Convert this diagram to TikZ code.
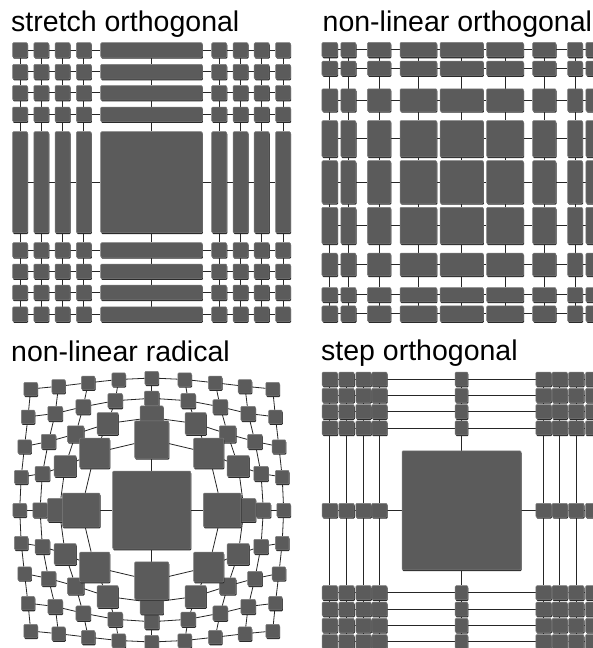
\documentclass[tikz,border=0pt]{standalone}
\usepackage{fontspec}
\setmainfont{Liberation Sans}
\usetikzlibrary{backgrounds, shadows}

\definecolor{boxfill}{HTML}{5B5B5B}
\definecolor{boxrim}{HTML}{7E7E7E}
\definecolor{boxshade}{HTML}{2A2A2A}

% radial layout: offsets and sizes, index 5*a+b
\def\radoff{{0,0,0,0,0,70.5,57,44,36.5,33,92.4,86.5,76,68.5,63.5,111.7,109.3,103.2,96.5,93.2,132,130.5,127.2,123.7,121}}
\def\radsize{{78,34,23.3,14.5,13.5,37.5,30,21,14.5,13.5,23.3,22,16.5,14.5,13.5,14.5,14.5,14.5,14.5,13.5,13.5,13.5,13.5,13.5,13.5}}

% edges between grid neighbours
\newcommand{\gridlinks}[1]{%
  \foreach \i [evaluate=\i as \inext using int(\i+1)] in {1,...,8}
    \foreach \j in {1,...,9}{
      \draw[link] (#1-\i-\j) -- (#1-\inext-\j);
      \draw[link] (#1-\j-\i) -- (#1-\j-\inext);
    }%
}

\begin{document}
\begin{tikzpicture}[x=1pt, y=-1pt,
    box/.style={draw=boxrim, line width=0.5pt, fill=boxfill, rounded corners=1pt, inner sep=0pt,
      general shadow={fill=boxshade, shadow xshift=0.6pt, shadow yshift=-1.3pt}},
    link/.style={draw=black!85, line width=0.8pt},
    heading/.style={anchor=base west, inner sep=0pt, font=\fontsize{28.5}{30}\selectfont}]
    \useasboundingbox (0,0) rectangle (592,648);
    \begin{scope}[on background layer]
        \fill[white] (0,0) rectangle (592,648);
    \end{scope}

    % Titles
    \node[heading] (h-stretch) at (11,31.5) {stretch orthogonal};
    \node[heading] (h-nonlin) at (322.5,31.5) {non-linear orthogonal};
    \node[heading] (h-radical) at (11,361) {non-linear radical};
    \node[heading] (h-step) at (321,360) {step orthogonal};

    % stretch orthogonal
    \foreach \x/\bw [count=\i] in {20/15, 41.3/15, 62.5/15, 83.8/15, 151.5/101.6, 219.2/15, 240.5/15, 261.7/15, 283/15}
        \foreach \y/\bh [count=\j] in {50/14.6, 71.7/14.6, 92.8/14.6, 114.3/14.6, 182.2/101, 250/14.6, 271.3/14.6, 292.5/14.6, 314.2/14.6}
            \node[box, minimum width=\bw, minimum height=\bh] (st-\i-\j) at (\x,\y) {};
    \begin{scope}[on background layer]
        \gridlinks{st}
    \end{scope}

    % non-linear orthogonal
    \foreach \x/\bw [count=\i] in {329.7/15.5, 348.4/15, 379.1/23.3, 418.4/36.8, 461.7/43.3, 505/36.8, 544.3/23.3, 575/15, 593.7/15.5}
        \foreach \y/\bh [count=\j] in {49.7/14.5, 68.3/14.3, 100/22.5, 138.7/36.3, 182/42.6, 225.5/36.5, 264.5/22.6, 294.7/14.4, 313.7/15.5}
            \node[box, minimum width=\bw, minimum height=\bh] (nl-\i-\j) at (\x,\y) {};
    \begin{scope}[on background layer]
        \gridlinks{nl}
    \end{scope}

    % non-linear radical (outer rings first)
    \foreach \ring in {4,3,2,1,0}
        \foreach \i in {1,...,9}
            \foreach \j in {1,...,9}{
                \pgfmathtruncatemacro\ca{abs(\i-5)}
                \pgfmathtruncatemacro\cb{abs(\j-5)}
                \pgfmathtruncatemacro\cm{max(\ca,\cb)}
                \ifnum\cm=\ring
                    \pgfmathtruncatemacro\ka{5*\ca+\cb}
                    \pgfmathtruncatemacro\kb{5*\cb+\ca}
                    \pgfmathsetmacro\ox{\radoff[\ka]}
                    \pgfmathsetmacro\oy{\radoff[\kb]}
                    \pgfmathsetmacro\bw{\radsize[\ka]}
                    \pgfmathsetmacro\bh{\radsize[\kb]}
                    \pgfmathsetmacro\px{151.7+(\i-5)/max(\ca,1)*\ox}
                    \pgfmathsetmacro\py{510+(\j-5)/max(\cb,1)*\oy}
                    \node[box, minimum width=\bw, minimum height=\bh] (rd-\i-\j) at (\px,\py) {};
                \fi
            }
    \begin{scope}[on background layer]
        \gridlinks{rd}
    \end{scope}

    % step orthogonal
    \foreach \x/\bw [count=\i] in {329.8/15.3, 346.5/15.3, 363.5/15.3, 379.4/15.3, 461.5/12.7, 543.6/15.3, 559.8/15.3, 576.3/15.3, 593.2/15.3}
        \foreach \y/\bh [count=\j] in {379.1/14, 395.3/14, 411.5/14, 427.9/14, 510.3/14, 592.7/14, 609.1/14, 625.3/14, 641.5/14}{
            \ifnum\numexpr10*\i+\j\relax=55 \else
                \node[box, minimum width=\bw, minimum height=\bh] (sp-\i-\j) at (\x,\y) {};
            \fi
        }
    \node[box, minimum size=119] (sp-5-5) at (461.5,510.3) {};
    \begin{scope}[on background layer]
        \gridlinks{sp}
    \end{scope}
\end{tikzpicture}
\end{document}
